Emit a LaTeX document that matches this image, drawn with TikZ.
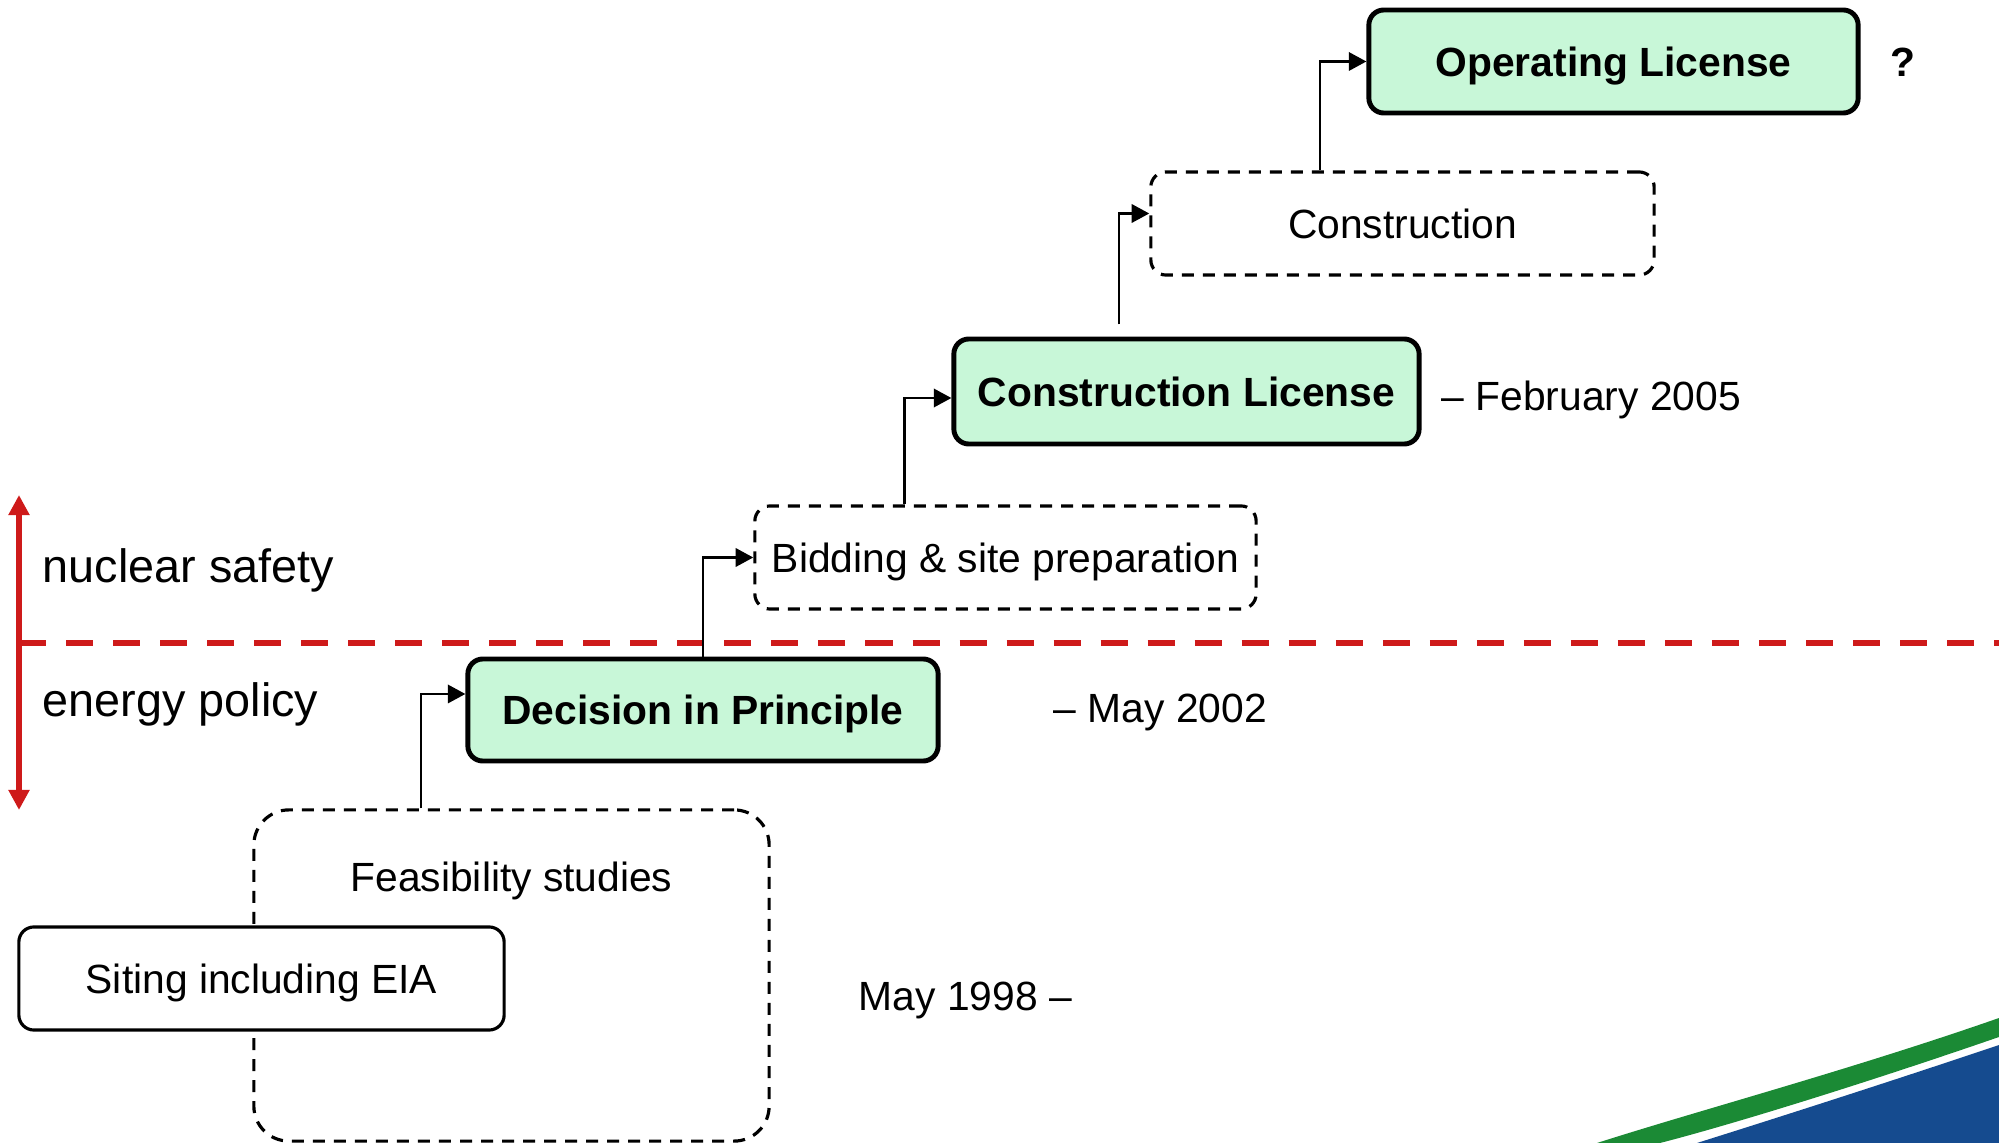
\documentclass[tikz,border=0pt]{standalone}
\usepackage{fontspec}
\setmainfont{Liberation Sans}
\usepackage{tikz}
\usetikzlibrary{arrows.meta}

\definecolor{mint}{RGB}{200,247,216}
\definecolor{alarmred}{RGB}{206,26,26}
\definecolor{logogreen}{RGB}{27,138,53}
\definecolor{logoblue}{RGB}{21,75,143}

\tikzset{
    boxtext/.style={font=\fontsize{11.6}{13}\selectfont, text height=8.4pt, text depth=0pt},
    license/.style={boxtext, draw, line width=1.4pt, rounded corners=0.15cm, fill=mint,
        font=\fontsize{11.6}{13}\selectfont\bfseries, minimum height=1.03cm},
    phase/.style={boxtext, draw, line width=0.9pt, dash pattern=on 0.12cm off 0.09cm,
        rounded corners=0.15cm, minimum height=1.03cm},
    link/.style={line width=0.75pt, -{Triangle[length=5pt, width=5.2pt]}},
    datenote/.style={boxtext, inner sep=0pt, anchor=west},
    sidenote/.style={font=\fontsize{13.3}{15}\selectfont, inner sep=0pt, anchor=base west},
}

\begin{document}
\begin{tikzpicture}[x=0.01cm, y=-0.01cm]
    \path[use as bounding box] (0, 0) rectangle (1999, 1143);

    % corner logo stripes
    \fill[logogreen] (1597, 1143) .. controls (1700, 1110) and (1850, 1070) .. (1999, 1018)
        -- (1999, 1037) .. controls (1860, 1085) and (1730, 1125) .. (1660, 1143) -- cycle;
    \fill[logoblue] (1697, 1143) .. controls (1770, 1120) and (1880, 1085) .. (1999, 1045)
        -- (1999, 1143) -- cycle;

    % safety / policy split
    \coordinate (safetop) at (19, 495);
    \coordinate (policybot) at (19, 810);
    \coordinate (splitL) at (19, 643);
    \coordinate (splitR) at (1999, 643);
    \draw[alarmred, line width=1.7pt, dash pattern=on 0.27cm off 0.2cm] (splitL) -- (splitR);
    \draw[alarmred, line width=1.8pt, {Triangle[length=5.7pt, width=5.7pt]}-{Triangle[length=5.7pt, width=5.7pt]}] (safetop) -- (policybot);
    \node[sidenote] (safety) at (42, 583) {nuclear safety};
    \node[sidenote] (policy) at (42, 717) {energy policy};

    % steps
    \node[phase, minimum width=5.15cm, minimum height=3.31cm, rounded corners=0.35cm,
        label={[boxtext, anchor=center, yshift=-0.68cm]north:Feasibility studies}] (feas) at (511.5, 975.5) {};
    \node[phase, solid, fill=white, minimum width=4.85cm] (siting) at (261.5, 978.5) {Siting including EIA};
    \node[license, minimum width=4.70cm, minimum height=1.02cm] (dip) at (703, 710) {Decision in Principle};
    \node[phase, minimum width=5.01cm] (bid) at (1005.5, 557.5) {Bidding \& site preparation};
    \node[license, minimum width=4.65cm, minimum height=1.05cm] (conlic) at (1186.5, 391.5) {Construction License};
    \node[phase, minimum width=5.03cm] (constr) at (1402.5, 223.5) {Construction};
    \node[license, minimum width=4.89cm] (oplic) at (1613.5, 61.5) {Operating License};

    % dates
    \node[datenote] (may98) at (858, 996) {May 1998 --};
    \node[datenote] (may02) at (1053, 708) {-- May 2002};
    \node[datenote] (feb05) at (1441, 396) {-- February 2005};
    \node[datenote, font=\fontsize{11.6}{13}\selectfont\bfseries] (unknown) at (1890, 62) {?};

    % links
    \draw[link] ([xshift=-0.905cm]feas.north) |- ([yshift=0.16cm]dip.west);
    \draw[link] (dip.north) |- (bid.west);
    \draw[link] ([xshift=-1.01cm]bid.north) |- ([yshift=-0.065cm]conlic.west);
    \draw[link] ([xshift=-0.675cm, yshift=0.12cm]conlic.north) |- ([yshift=0.1cm]constr.west);
    \draw[link] ([xshift=-0.825cm]constr.north) |- (oplic.west);
\end{tikzpicture}
\end{document}
